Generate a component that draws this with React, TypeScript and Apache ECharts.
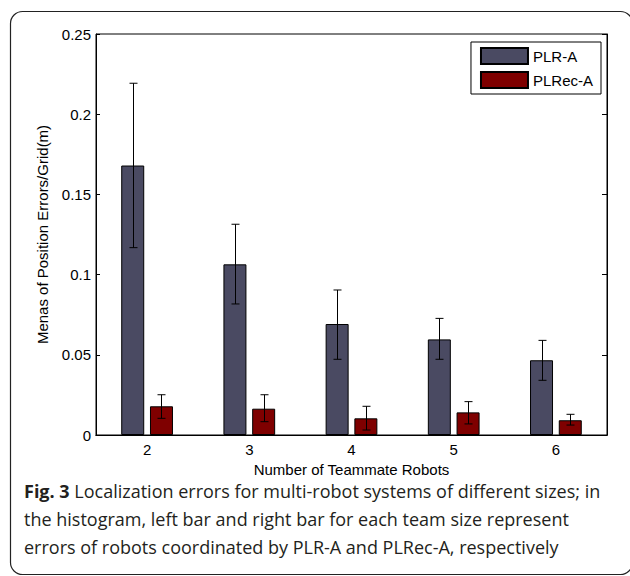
import React, { useEffect, useRef } from "react";
import * as echarts from "echarts";

const categories = ["2", "3", "4", "5", "6"];
const plrA = [0.168, 0.1064, 0.0692, 0.0596, 0.0466];
const plrALow = [0.1168, 0.0817, 0.0472, 0.0472, 0.0341];
const plrAHigh = [0.2193, 0.1314, 0.0904, 0.0727, 0.059];
const plrecA = [0.0179, 0.0164, 0.0104, 0.0141, 0.0092];
const plrecALow = [0.0104, 0.0083, 0.0031, 0.0069, 0.0062];
const plrecAHigh = [0.0251, 0.0251, 0.0179, 0.0208, 0.0129];
const yTicks = { min: 0, max: 0.25, interval: 0.05 };
const seriesNames = ["PLR-A", "PLRec-A"];
const xTitle = "Number of Teammate Robots";
const yTitle = "Menas of Position Errors/Grid(m)";
const captionLines = [
  "Localization errors for multi-robot systems of different sizes; in",
  "the histogram, left bar and right bar for each team size represent",
  "errors of robots coordinated by PLR-A and PLRec-A, respectively",
];

const BAR_W = 0.225;
const BAR_GAP = 0.25;
const FONT = "'Liberation Sans', Arial, Helvetica, sans-serif";
const CAP_FONT = "'Open Sans', 'Noto Sans', sans-serif";
const FS = 15;
const CFS = 18;

function makeErrRender(sign: number) {
  return (params: any, api: any) => {
    const xi = api.value(0);
    const lo = api.coord([xi, api.value(1)]);
    const hi = api.coord([xi, api.value(2)]);
    const band = api.size([1, 0])[0];
    const bw = band * BAR_W;
    const off = (sign * (bw + bw * BAR_GAP)) / 2;
    const x = Math.round(lo[0] + off) + 0.5;
    const cap = 4;
    const style = { stroke: "#000", lineWidth: 1 };
    return {
      type: "group",
      children: [
        { type: "line", shape: { x1: x, y1: lo[1], x2: x, y2: hi[1] }, style },
        { type: "line", shape: { x1: x - cap, y1: hi[1], x2: x + cap, y2: hi[1] }, style },
        { type: "line", shape: { x1: x - cap, y1: lo[1], x2: x + cap, y2: lo[1] }, style },
      ],
    };
  };
}

export default function App() {
  const ref = useRef<HTMLDivElement>(null);
  useEffect(() => {
    document.body.style.margin = "0";
    const chart = echarts.init(ref.current!, null, { renderer: "svg" });
    const axisText = { color: "#000", fontFamily: FONT, fontSize: FS };
    const option: any = {
      animation: false,
      backgroundColor: "#fff",
      grid: {
        left: 96,
        right: 23,
        top: 34,
        bottom: 141,
        show: true,
        borderColor: "#000",
        borderWidth: 1,
        backgroundColor: "transparent",
      },
      legend: {
        data: seriesNames,
        orient: "vertical",
        right: 29,
        top: 42,
        padding: [5, 8, 5, 9],
        itemGap: 6,
        itemWidth: 47,
        itemHeight: 16,
        icon: "rect",
        borderColor: "#000",
        borderWidth: 1,
        backgroundColor: "#fff",
        textStyle: { ...axisText },
      },
      xAxis: [
        {
          type: "category",
          data: categories,
          position: "bottom",
          axisLine: { lineStyle: { color: "#000", width: 1 } },
          axisTick: { inside: true, length: 4, alignWithLabel: true, lineStyle: { color: "#000" } },
          axisLabel: { ...axisText, margin: 7 },
          name: xTitle,
          nameLocation: "middle",
          nameGap: 24,
          nameTextStyle: { ...axisText },
          splitLine: { show: false },
        },
        {
          type: "category",
          data: categories,
          position: "top",
          axisLine: { lineStyle: { color: "#000", width: 1 } },
          axisTick: { inside: true, length: 4, alignWithLabel: true, lineStyle: { color: "#000" } },
          axisLabel: { show: false },
          splitLine: { show: false },
        },
      ],
      yAxis: [
        {
          type: "value",
          min: yTicks.min,
          max: yTicks.max,
          interval: yTicks.interval,
          position: "left",
          axisLine: { show: true, lineStyle: { color: "#000", width: 1 } },
          axisTick: { show: true, inside: true, length: 4, lineStyle: { color: "#000" } },
          axisLabel: { ...axisText, margin: 5 },
          splitLine: { show: false },
          name: yTitle,
          nameLocation: "middle",
          nameGap: 46,
          nameRotate: 90,
          nameTextStyle: { ...axisText },
        },
        {
          type: "value",
          min: yTicks.min,
          max: yTicks.max,
          interval: yTicks.interval,
          position: "right",
          axisLine: { show: true, lineStyle: { color: "#000", width: 1 } },
          axisTick: { show: true, inside: true, length: 5, lineStyle: { color: "#000" } },
          axisLabel: { show: false },
          splitLine: { show: false },
        },
      ],
      series: [
        {
          name: seriesNames[0],
          type: "bar",
          data: plrA,
          barWidth: BAR_W * 100 + "%",
          barGap: BAR_GAP * 100 + "%",
          itemStyle: { color: "#4a4a62", borderColor: "#000", borderWidth: 1 },
        },
        {
          name: seriesNames[1],
          type: "bar",
          data: plrecA,
          barWidth: BAR_W * 100 + "%",
          barGap: BAR_GAP * 100 + "%",
          itemStyle: { color: "#7f0000", borderColor: "#000", borderWidth: 1 },
        },
        {
          name: "err-a",
          type: "custom",
          renderItem: makeErrRender(-1),
          encode: { x: 0, y: [1, 2] },
          data: categories.map((_, i) => [i, plrALow[i], plrAHigh[i]]),
          z: 5,
        },
        {
          name: "err-b",
          type: "custom",
          renderItem: makeErrRender(1),
          encode: { x: 0, y: [1, 2] },
          data: categories.map((_, i) => [i, plrecALow[i], plrecAHigh[i]]),
          z: 5,
        },
      ],
      graphic: [
        {
          type: "rect",
          shape: { x: 10.5, y: 11.5, width: 622, height: 563, r: 12 },
          style: { fill: "none", stroke: "#222", lineWidth: 1.2 },
          silent: true,
          z: -1,
        },
        {
          type: "text",
          x: 24,
          y: 491,
          style: {
            text: "{b|Fig. 3} " + captionLines[0],
            fill: "#231f20",
            font: `${CFS}px ${CAP_FONT}`,
            verticalAlign: "middle",
            rich: {
              b: { fontWeight: "bold", fontSize: CFS, fontFamily: CAP_FONT, fill: "#231f20" },
            },
          },
        },
        {
          type: "text",
          x: 24,
          y: 519,
          style: {
            text: captionLines[1],
            fill: "#231f20",
            font: `${CFS}px ${CAP_FONT}`,
            verticalAlign: "middle",
          },
        },
        {
          type: "text",
          x: 24,
          y: 547,
          style: {
            text: captionLines[2],
            fill: "#231f20",
            font: `${CFS}px ${CAP_FONT}`,
            verticalAlign: "middle",
          },
        },
      ],
    };
    chart.setOption(option);
    return () => chart.dispose();
  }, []);
  return <div ref={ref} style={{ width: 630, height: 576 }} />;
}
